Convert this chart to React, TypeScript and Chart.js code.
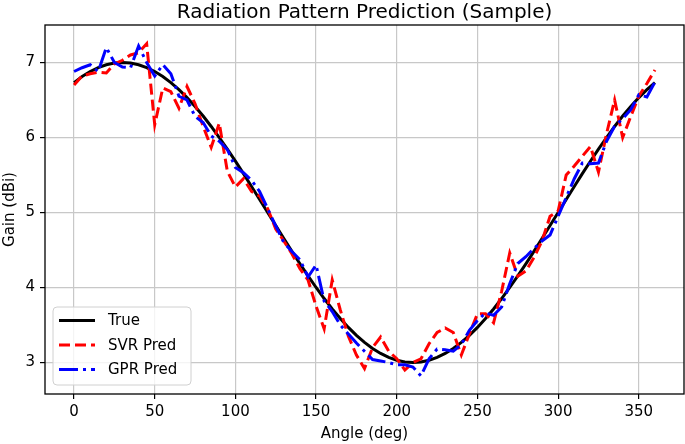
import { useEffect, useRef } from "react";
import { Chart, registerables } from "chart.js";

Chart.register(...registerables);

const chartTitle = "Radiation Pattern Prediction (Sample)";
const xLabel = "Angle (deg)";
const yLabel = "Gain (dBi)";
const seriesLabels = ["True", "SVR Pred", "GPR Pred"];

const angles = [
  0, 5, 10, 15, 20, 25, 30, 35, 40, 45, 50, 55, 60, 65, 70, 75, 80, 85, 90, 95,
  100, 105, 110, 115, 120, 125, 130, 135, 140, 145, 150, 155, 160, 165, 170, 175,
  180, 185, 190, 195, 200, 205, 210, 215, 220, 225, 230, 235, 240, 245, 250, 255,
  260, 265, 270, 275, 280, 285, 290, 295, 300, 305, 310, 315, 320, 325, 330, 335,
  340, 345, 350, 355, 360,
];

const trueGain = [
  6.732, 6.813, 6.879, 6.932, 6.97, 6.992, 7.0, 6.992, 6.97, 6.932, 6.879, 6.813,
  6.732, 6.638, 6.532, 6.414, 6.286, 6.147, 6.0, 5.845, 5.684, 5.518, 5.347, 5.174,
  5.0, 4.826, 4.653, 4.482, 4.316, 4.155, 4.0, 3.853, 3.714, 3.586, 3.468, 3.362,
  3.268, 3.187, 3.121, 3.068, 3.03, 3.008, 3.0, 3.008, 3.03, 3.068, 3.121, 3.187,
  3.268, 3.362, 3.468, 3.586, 3.714, 3.853, 4.0, 4.155, 4.316, 4.482, 4.653, 4.826,
  5.0, 5.174, 5.347, 5.518, 5.684, 5.845, 6.0, 6.147, 6.286, 6.414, 6.532, 6.638,
  6.732,
];

const svrPred = [
  6.7, 6.82, 6.85, 6.87, 6.86, 6.98, 7.03, 7.1, 7.13, 7.25, 6.17, 6.66,
  6.61, 6.39, 6.68, 6.45, 6.15, 5.87, 6.19, 5.55, 5.34, 5.45, 5.28, 5.22,
  5.05, 4.78, 4.62, 4.45, 4.25, 4.1, 3.75, 3.45, 4.1, 3.7, 3.35, 3.1,
  2.92, 3.2, 3.34, 3.15, 3.05, 2.9, 3.0, 3.05, 3.25, 3.4, 3.46, 3.4,
  3.1, 3.38, 3.65, 3.65, 3.53, 3.95, 4.46, 4.15, 4.22, 4.4, 4.62, 4.95,
  5.02, 5.5, 5.62, 5.75, 5.88, 5.54, 6.05, 6.5, 6.0, 6.28, 6.55, 6.72,
  6.9,
];

const gprPred = [
  6.88, 6.93, 6.97, 6.88, 7.2, 7.0, 6.94, 6.93, 7.22, 7.0, 6.82, 6.97,
  6.85, 6.55, 6.5, 6.28, 6.2, 6.02, 5.95, 5.84, 5.6, 5.53, 5.43, 5.28,
  5.05, 4.82, 4.6, 4.48, 4.37, 4.14, 4.3, 3.82, 3.68, 3.5, 3.38, 3.26,
  3.15, 3.04, 3.02, 3.0, 2.97, 2.97, 2.94, 2.82, 3.05, 3.18, 3.17, 3.15,
  3.24, 3.43, 3.56, 3.66, 3.63, 3.74, 4.05, 4.32, 4.41, 4.52, 4.62, 4.7,
  4.95, 5.2, 5.45, 5.66, 5.65, 5.66, 5.95, 6.15, 6.25, 6.37, 6.57, 6.54,
  6.74,
];

const xTicks = [0, 50, 100, 150, 200, 250, 300, 350];
const yTicks = [3, 4, 5, 6, 7];

export default function App() {
  const ref = useRef<HTMLCanvasElement>(null);

  useEffect(() => {
    const font = "'DejaVu Sans', 'Liberation Sans', sans-serif";

    const framePlugin = {
      id: "frameAndLegend",
      afterDraw(chart: any) {
        const { ctx, chartArea: ca } = chart;
        ctx.save();
        ctx.strokeStyle = "#000";
        ctx.lineWidth = 1.3;
        ctx.strokeRect(ca.left, ca.top, ca.right - ca.left, ca.bottom - ca.top);

        // legend (lower left, inside axes)
        const bw = 138;
        const bh = 78;
        const bx = ca.left + 8;
        const by = ca.bottom - 9 - bh;
        ctx.beginPath();
        (ctx as any).roundRect(bx, by, bw, bh, 4);
        ctx.fillStyle = "rgba(255,255,255,0.8)";
        ctx.fill();
        ctx.strokeStyle = "#d0d0d0";
        ctx.lineWidth = 1;
        ctx.stroke();

        const ds = chart.data.datasets;
        [0, 1, 2].forEach((idx, i) => {
          const d = ds[idx];
          const y = by + 13.5 + i * 24.5;
          ctx.beginPath();
          ctx.setLineDash(d.borderDash || []);
          ctx.strokeStyle = d.borderColor;
          ctx.lineWidth = 3;
          ctx.moveTo(bx + 6, y);
          ctx.lineTo(bx + 42, y);
          ctx.stroke();
          ctx.setLineDash([]);
          ctx.fillStyle = "#000";
          ctx.font = `15px ${font}`;
          ctx.textBaseline = "middle";
          ctx.textAlign = "left";
          ctx.fillText(d.label, bx + 55, y + 1);
        });
        ctx.restore();
      },
    };

    const toPoints = (vals: number[]) => angles.map((a, i) => ({ x: a, y: vals[i] }));

    const chart = new Chart(ref.current as HTMLCanvasElement, {
      type: "line",
      data: {
        datasets: [
          {
            label: seriesLabels[0],
            data: toPoints(trueGain),
            borderColor: "#000000",
            borderWidth: 3,
            pointRadius: 0,
            tension: 0,
            order: 3,
          },
          {
            label: seriesLabels[1],
            data: toPoints(svrPred),
            borderColor: "#ff0000",
            borderWidth: 3,
            borderDash: [11, 5],
            pointRadius: 0,
            tension: 0,
            order: 2,
          },
          {
            label: seriesLabels[2],
            data: toPoints(gprPred),
            borderColor: "#0000ff",
            borderWidth: 3,
            borderDash: [19, 5, 3, 5],
            pointRadius: 0,
            tension: 0,
            order: 1,
          },
        ] as any,
      },
      options: {
        responsive: false,
        animation: false,
        layout: { padding: { left: 0, right: 1, top: 0, bottom: 0 } },
        plugins: {
          legend: { display: false },
          tooltip: { enabled: false },
          title: {
            display: true,
            text: chartTitle,
            color: "#000",
            fullSize: false,
            font: { family: font, size: 20, weight: "normal", lineHeight: 1.2 },
            padding: { top: 1, bottom: 0 },
          } as any,
        },
        scales: {
          x: {
            type: "linear",
            min: -18,
            max: 378,
            afterBuildTicks: (s: any) => {
              s.ticks = xTicks.map((v) => ({ value: v }));
            },
            afterFit: (s: any) => {
              s.height = 50;
            },
            ticks: {
              color: "#000",
              font: { family: font, size: 15 },
              padding: 4,
              maxRotation: 0,
              autoSkip: false,
            },
            grid: {
              color: "#c8c8c8",
              lineWidth: 1.2,
              tickLength: 5,
              tickColor: "#000",
              tickWidth: 1.2,
            },
            border: { display: false },
            title: {
              display: true,
              text: xLabel,
              color: "#000",
              font: { family: font, size: 15 },
              padding: { top: 0, bottom: 1 },
            },
          },
          y: {
            type: "linear",
            min: 2.58,
            max: 7.5,
            afterBuildTicks: (s: any) => {
              s.ticks = yTicks.map((v) => ({ value: v }));
            },
            afterFit: (s: any) => {
              s.width = 45;
            },
            ticks: {
              color: "#000",
              font: { family: font, size: 15 },
              padding: 5,
              autoSkip: false,
            },
            grid: {
              color: "#c8c8c8",
              lineWidth: 1.2,
              tickLength: 5,
              tickColor: "#000",
              tickWidth: 1.2,
            },
            border: { display: false },
            title: {
              display: true,
              text: yLabel,
              color: "#000",
              font: { family: font, size: 15 },
              padding: { top: 1, bottom: 0 },
            },
          },
        },
      } as any,
      plugins: [framePlugin],
    });

    return () => chart.destroy();
  }, []);

  return (
    <div style={{ position: "fixed", left: 0, top: 0, width: 685, height: 444, background: "#fff" }}>
      <canvas ref={ref} width={685} height={444} style={{ display: "block", width: 685, height: 444 }} />
    </div>
  );
}
